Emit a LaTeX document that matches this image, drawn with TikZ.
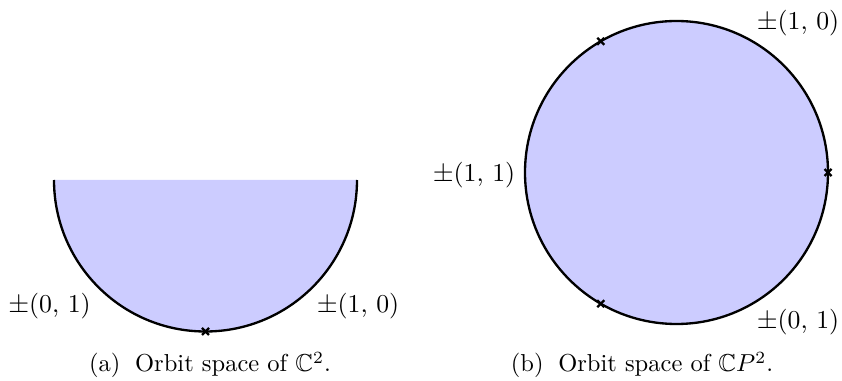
\documentclass[tikz,border=0pt]{standalone}
\usepackage{amssymb}
\usetikzlibrary{calc}
\begin{document}
\begin{tikzpicture}[x=0.408pt,y=0.408pt,
  region/.style={fill=blue!20},
  rim/.style={draw=black,line width=0.95pt},
  lbl/.style={inner sep=0pt,font=\fontsize{10.5}{13}\selectfont},
  captext/.style={inner sep=0pt,font=\fontsize{10}{12}\selectfont},
  xmark/.style={line width=0.9pt}]
\useasboundingbox (0,0) rectangle (842,381);
% ---- left panel: half disc ----
\fill[region] (54,201) arc[start angle=180,end angle=360,radius=151.5] -- cycle;
\draw[rim] (54,201) arc[start angle=180,end angle=360,radius=151.5];
\coordinate (pa) at (205.5,49.5);
\draw[xmark] ($(pa)+(-3.5,-3.5)$) -- ($(pa)+(3.5,3.5)$) ($(pa)+(-3.5,3.5)$) -- ($(pa)+(3.5,-3.5)$);
\node[lbl] (l01) at (49.5,75) {$\pm$(0, 1)};
\node[lbl] (l10) at (358,75) {$\pm$(1, 0)};
\node[captext] (capa) at (210,16) {(a)\hspace{0.6em}Orbit space of $\mathbb{C}^2$.};
% ---- right panel: disc ----
\coordinate (c) at (676.5,208.5);
\fill[region] (c) circle[radius=151.5];
\draw[rim] (c) circle[radius=151.5];
\foreach \a/\n in {0/m0,120/m1,240/m2}{
  \coordinate (\n) at ($(c)+(\a:151.5)$);
  \draw[xmark] ($(\n)+(-3.5,-3.5)$) -- ($(\n)+(3.5,3.5)$) ($(\n)+(-3.5,3.5)$) -- ($(\n)+(3.5,-3.5)$);
}
\node[lbl] (r10) at (798,358) {$\pm$(1, 0)};
\node[lbl] (r11) at (474,206) {$\pm$(1, 1)};
\node[lbl] (r01) at (798,59) {$\pm$(0, 1)};
\node[captext] (capb) at (642,16) {(b)\hspace{0.6em}Orbit space of $\mathbb{C}P^2$.};
\end{tikzpicture}
\end{document}
